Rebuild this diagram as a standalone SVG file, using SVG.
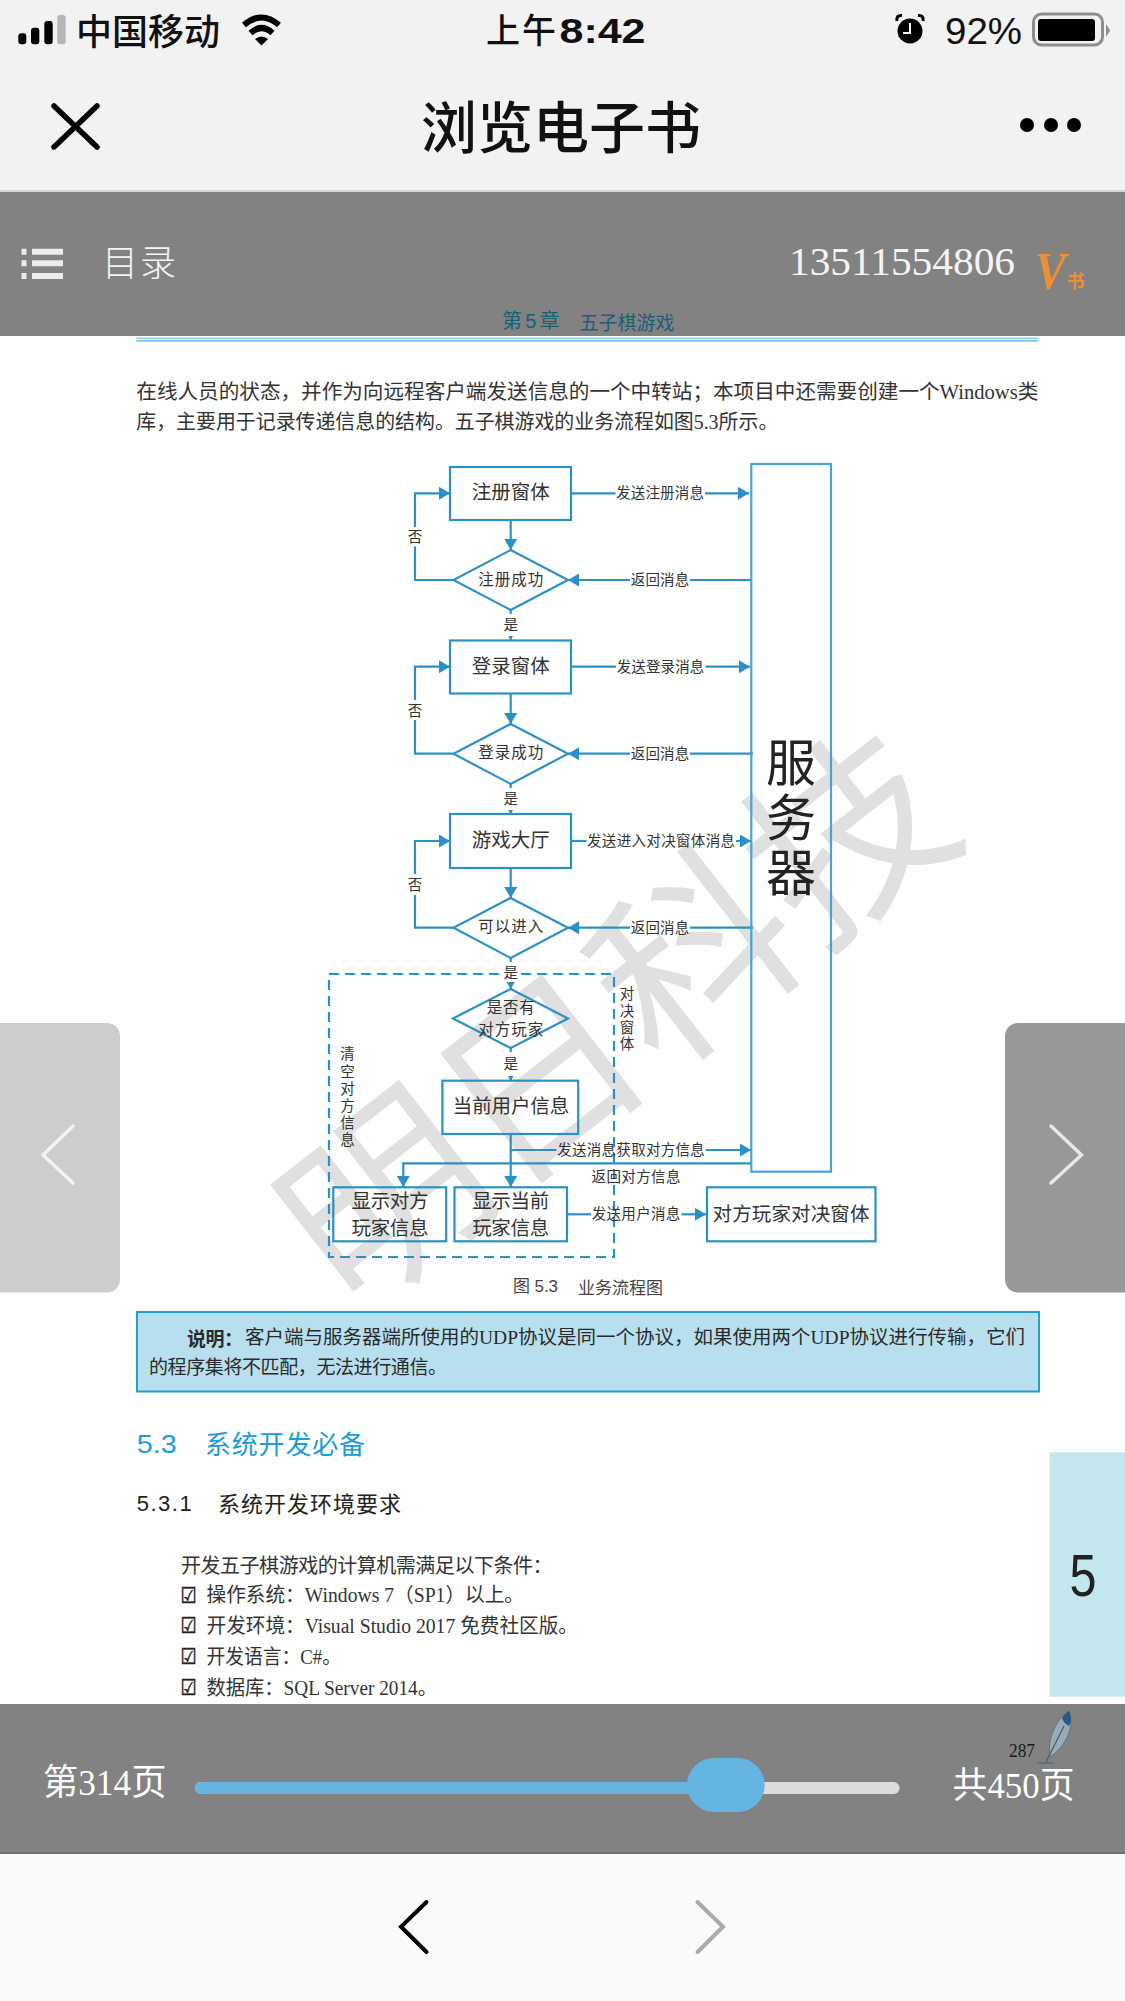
<svg xmlns="http://www.w3.org/2000/svg" width="1125" height="2001" viewBox="0 0 1125 2001">
<style>
text{dominant-baseline:central;font-family:"Noto Sans CJK SC","Noto Sans",sans-serif}
.sf{font-family:"Liberation Serif","Noto Sans CJK SC",serif}
.ss{font-family:"Liberation Sans","Noto Sans CJK SC",sans-serif}
.lb{font-size:14.5px;fill:#333;text-anchor:middle}
.bx{font-size:19.5px;fill:#333;text-anchor:middle}
.dt{font-size:15.5px;fill:#333;text-anchor:middle}
.pg{font-size:20px;fill:#333}
.nt{font-size:19px;fill:#2a2a2a}
.wt{fill:#f4f4f4}
.ck{font-family:"DejaVu Sans",sans-serif;font-size:22px;fill:#222;stroke:#222;stroke-width:.5}
.node{fill:none;stroke:#2b90c6;stroke-width:2.2}
.con{fill:none;stroke:#2b90c6;stroke-width:2.2}
.bgw{fill:#fff;stroke:none}
</style>
<defs>
<marker id="ah" markerUnits="userSpaceOnUse" markerWidth="12" markerHeight="13" refX="11" refY="6.5" orient="auto"><path d="M0,0L11,6.5L0,13Z" fill="#2b90c6"/></marker>
</defs>
<rect width="1125" height="2001" fill="#fff"/>
<g id="watermark"><text x="608" y="1006" transform="rotate(-38 608 1006)" text-anchor="middle" style="font-size:196px;fill:#e0e0e0">明日科技</text></g>

<g id="page-text">
<text class="sf pg" x="136.3" y="391.5" textLength="902" lengthAdjust="spacingAndGlyphs">在线人员的状态，并作为向远程客户端发送信息的一个中转站；本项目中还需要创建一个Windows类</text>
<text class="sf pg" x="136.3" y="421.5" textLength="642" lengthAdjust="spacingAndGlyphs">库，主要用于记录传递信息的结构。五子棋游戏的业务流程如图5.3所示。</text>
</g>

<g id="connectors">
<rect x="329" y="974" width="285" height="283" fill="none" stroke="#2b90c6" stroke-width="2.2" stroke-dasharray="10 6"/>
<path class="con" marker-end="url(#ah)" d="M510.7,520V550"/>
<path class="con" marker-end="url(#ah)" d="M510.7,693.7V724"/>
<path class="con" marker-end="url(#ah)" d="M510.7,868V898"/>
<path class="con" marker-end="url(#ah)" d="M510.7,610V640"/>
<path class="con" marker-end="url(#ah)" d="M510.7,784V814"/>
<path class="con" marker-end="url(#ah)" d="M510.7,958V989"/>
<path class="con" marker-end="url(#ah)" d="M510.7,1048V1080.7"/>
<path class="con" marker-end="url(#ah)" d="M510.7,1134V1187"/>
<path class="con" d="M571,493.3H615.5"/><path class="con" marker-end="url(#ah)" d="M705,493.3H749"/>
<path class="con" d="M571,666.7H616"/><path class="con" marker-end="url(#ah)" d="M705.5,666.7H750"/>
<path class="con" d="M571,841H586.5"/><path class="con" marker-end="url(#ah)" d="M736,841H751"/>
<path class="con" d="M751,580H690"/><path class="con" marker-end="url(#ah)" d="M630,580H568"/>
<path class="con" d="M753,753.7H690"/><path class="con" marker-end="url(#ah)" d="M630,753.7H568"/>
<path class="con" d="M753,927.7H690"/><path class="con" marker-end="url(#ah)" d="M630,927.7H568"/>
<path class="con" d="M453.5,580H415V546.5"/><path class="con" marker-end="url(#ah)" d="M415,527V493.3H450"/>
<path class="con" d="M453.5,753.7H415V720"/><path class="con" marker-end="url(#ah)" d="M415,700V666.7H450"/>
<path class="con" d="M453.5,927.7H415V895"/><path class="con" marker-end="url(#ah)" d="M415,874V841H450"/>
<path class="con" d="M510.7,1150H556.5"/><path class="con" marker-end="url(#ah)" d="M706,1150H751"/>
<path class="con" marker-end="url(#ah)" d="M751,1163.3H403.3V1187"/>
<path class="con" d="M567,1214.3H591"/><path class="con" marker-end="url(#ah)" d="M681.5,1214.3H706"/>
</g>

<g id="connector-labels">
<text class="lb" x="660" y="491.5" textLength="88">发送注册消息</text>
<text class="lb" x="660.5" y="665" textLength="87.5">发送登录消息</text>
<text class="lb" x="661" y="839" textLength="148">发送进入对决窗体消息</text>
<text class="lb" x="660" y="578.5" textLength="58.5">返回消息</text>
<text class="lb" x="660" y="752" textLength="58.5">返回消息</text>
<text class="lb" x="660" y="926" textLength="58.5">返回消息</text>
<text class="lb" x="415" y="535.5">否</text>
<text class="lb" x="415" y="709">否</text>
<text class="lb" x="415" y="883.5">否</text>
<rect class="bgw" x="503" y="614" width="15" height="22"/><text class="lb" x="510.7" y="623.5">是</text>
<rect class="bgw" x="503" y="788" width="15" height="22"/><text class="lb" x="510.7" y="797.5">是</text>
<rect class="bgw" x="503" y="962" width="15" height="20"/><text class="lb" x="510.7" y="971">是</text>
<rect class="bgw" x="503" y="1052" width="15" height="24"/><text class="lb" x="510.7" y="1062.5">是</text>
<text class="lb" x="631" y="1148.5" textLength="147.5">发送消息获取对方信息</text>
<text class="lb" x="636" y="1175.5" textLength="89">返回对方信息</text>
<text class="lb" x="636" y="1212" textLength="88.5">发送用户消息</text>
<text class="lb" x="627" y="1020" style="writing-mode:vertical-rl;text-orientation:upright;letter-spacing:2.2px">对决窗体</text>
<text class="lb" x="347.6" y="1098" style="writing-mode:vertical-rl;text-orientation:upright;letter-spacing:2.6px">清空对方信息</text>
<text class="ss" x="513" y="1286" style="font-size:17px;fill:#444" textLength="45">图 5.3</text>
<text x="578" y="1286" style="font-size:17px;fill:#444" textLength="85">业务流程图</text>
</g>

<g id="server"><rect class="node" x="751.3" y="464" width="79.7" height="707.7" style="stroke:#4aa3d3"/><text x="791" y="819" text-anchor="middle" style="writing-mode:vertical-rl;text-orientation:upright;font-size:50px;letter-spacing:5px;fill:#222">服务器</text></g>
<g id="register-window"><rect class="node" x="450" y="467" width="121" height="53"/><text class="bx" x="510.7" y="490.5" textLength="78">注册窗体</text></g>
<g id="register-ok"><path class="node" d="M510.7,550L568,580L510.7,610L453.500,580Z"/><text class="dt" x="510.7" y="577.5" textLength="65">注册成功</text></g>
<g id="login-window"><rect class="node" x="450" y="640.5" width="121" height="53"/><text class="bx" x="510.7" y="664" textLength="78">登录窗体</text></g>
<g id="login-ok"><path class="node" d="M510.7,724L568,753.7L510.7,784L453.500,753.7Z"/><text class="dt" x="510.7" y="751" textLength="65">登录成功</text></g>
<g id="lobby"><rect class="node" x="450" y="814" width="121" height="54"/><text class="bx" x="510.7" y="838" textLength="78">游戏大厅</text></g>
<g id="can-enter"><path class="node" d="M510.7,898L568,927.7L510.7,958L453.500,927.7Z"/><text class="dt" x="510.7" y="925" textLength="65">可以进入</text></g>
<g id="has-opponent"><path class="node" d="M510.7,989L568,1018.500L510.7,1048L453,1018.500Z"/><text class="dt" x="510.7" y="1006" textLength="48">是否有</text><text class="dt" x="510.7" y="1028" textLength="65">对方玩家</text></g>
<g id="current-user"><rect class="node" x="442.4" y="1080.7" width="135.8" height="53.3"/><text class="bx" x="511" y="1104" textLength="116.5">当前用户信息</text></g>
<g id="show-opponent"><rect class="node" x="333.3" y="1187.3" width="112.9" height="54"/><text class="bx" x="390" y="1199.5" textLength="77">显示对方</text><text class="bx" x="390" y="1226" textLength="77">玩家信息</text></g>
<g id="show-current"><rect class="node" x="454.5" y="1187.3" width="112.5" height="54"/><text class="bx" x="510.7" y="1199.5" textLength="77">显示当前</text><text class="bx" x="510.7" y="1226" textLength="77">玩家信息</text></g>
<g id="opponent-window"><rect class="node" x="707" y="1187.3" width="168.5" height="54"/><text class="bx" x="791" y="1212" textLength="157">对方玩家对决窗体</text></g>

<g id="note"><rect x="137" y="1312" width="902" height="79.5" fill="#b8dfee" stroke="#1ba0d8" stroke-width="2"/>
<text class="nt" x="187" y="1337.5" textLength="56" font-weight="bold">说明：</text>
<text class="sf nt" x="245" y="1337.5" textLength="780" lengthAdjust="spacingAndGlyphs">客户端与服务器端所使用的UDP协议是同一个协议，如果使用两个UDP协议进行传输，它们</text>
<text class="nt" x="149" y="1365.5" textLength="298">的程序集将不匹配，无法进行通信。</text></g>

<g id="section">
<text class="ss" x="136.7" y="1444" style="font-size:26px;fill:#1b9cd6" textLength="40" lengthAdjust="spacingAndGlyphs">5.3</text>
<text x="205" y="1442" style="font-size:26px;fill:#1b9cd6" textLength="160">系统开发必备</text>
<text class="ss" x="136.7" y="1503" style="font-size:22px;fill:#222" textLength="55">5.3.1</text>
<text x="218" y="1502" style="font-size:22px;fill:#222" textLength="183">系统开发环境要求</text>
<text class="pg" x="181" y="1564" textLength="371.5">开发五子棋游戏的计算机需满足以下条件：</text>
<text class="ck" x="180.500" y="1595" textLength="16" lengthAdjust="spacingAndGlyphs">☑</text>
<text class="sf pg" x="206.5" y="1595" textLength="317.5" lengthAdjust="spacingAndGlyphs">操作系统：Windows 7（SP1）以上。</text>
<text class="ck" x="180.500" y="1625.7" textLength="16" lengthAdjust="spacingAndGlyphs">☑</text>
<text class="sf pg" x="206.5" y="1625.7" textLength="371.5" lengthAdjust="spacingAndGlyphs">开发环境：Visual Studio 2017 免费社区版。</text>
<text class="ck" x="180.500" y="1656.7" textLength="16" lengthAdjust="spacingAndGlyphs">☑</text>
<text class="sf pg" x="206.5" y="1656.7" textLength="134.5" lengthAdjust="spacingAndGlyphs">开发语言：C#。</text>
<text class="ck" x="180.500" y="1687.7" textLength="16" lengthAdjust="spacingAndGlyphs">☑</text>
<text class="sf pg" x="206.5" y="1687.7" textLength="230.5" lengthAdjust="spacingAndGlyphs">数据库：SQL Server 2014。</text>
</g>

<g id="chapter-tab"><rect x="1049.5" y="1452.3" width="75.5" height="244.4" fill="#c4e6ef"/><text class="ss" x="1083" y="1575" text-anchor="middle" style="font-size:60px;fill:#222" textLength="27" lengthAdjust="spacingAndGlyphs">5</text></g>

<g id="status-bar">
<rect width="1125" height="191" fill="#f2f2f3"/>
<rect x="18.3" y="33.3" width="8" height="11" rx="3"/><rect x="31" y="27.7" width="8.3" height="16.6" rx="3"/><rect x="44.3" y="21" width="8.4" height="23.3" rx="3"/><rect x="57.3" y="15" width="8.4" height="29.3" rx="3" fill="#b5b5b5"/>
<text x="76" y="28.500" style="font-size:36px;fill:#111;font-weight:500" textLength="144">中国移动</text>
<path d="M244,25Q261.5,10 279,25" fill="none" stroke="#000" stroke-width="6"/><path d="M250.5,33Q261.5,23 272.500,33" fill="none" stroke="#000" stroke-width="6"/><path d="M255,39Q261.500,34 268,39L261.500,45.500Z"/>
<text x="486" y="28.500" style="font-size:34px;fill:#111;font-weight:500" textLength="70">上午</text>
<text class="ss" x="559.5" y="30" style="font-size:35px;font-weight:bold;fill:#111" textLength="86" lengthAdjust="spacingAndGlyphs">8:42</text>
<circle cx="910" cy="31" r="12.5"/><path d="M910,23V33H903" fill="none" stroke="#f2f2f3" stroke-width="2"/><path d="M897,21Q896,15 902,15.500M923,21Q924,15 918,15.500" fill="none" stroke="#000" stroke-width="3"/>
<text class="ss" x="945" y="31" style="font-size:36px;fill:#111" textLength="77" lengthAdjust="spacingAndGlyphs">92%</text>
<rect x="1033.500" y="14" width="69" height="31" rx="8" fill="none" stroke="#8e8e8e" stroke-width="3"/><rect x="1038" y="19" width="57" height="22" rx="3"/><path d="M1106,24Q1110,30 1110,30.500Q1110,31 1106,37Z" fill="#8e8e8e"/>
</g>

<g id="title-bar">
<path d="M54,106L97,147M97,106L54,147" stroke="#000" stroke-width="5.500" stroke-linecap="round" fill="none"/>
<text x="421" y="123.500" style="font-size:56px;font-weight:500;fill:#111" textLength="280">浏览电子书</text>
<circle cx="1027" cy="125" r="7"/><circle cx="1051" cy="125" r="7"/><circle cx="1074" cy="125" r="7"/>
</g>

<g id="top-menu">
<rect y="190" width="1125" height="146" fill="#828282"/><rect y="190" width="1125" height="2" fill="#d6d6d6"/>
<path d="M21.500,251.700H26.500M32,251.700H63M21.500,263.300H26.500M32,263.300H63M21.500,276H26.500M32,276H63" stroke="#ececec" stroke-width="6" fill="none"/>
<text class="wt" x="102" y="260" style="font-size:36px;font-weight:300" textLength="74">目录</text>
<text class="sf wt" x="789" y="261.700" style="font-size:40px" textLength="226" lengthAdjust="spacingAndGlyphs">13511554806</text>
<text class="sf" x="1035" y="271" style="font-size:52px;font-weight:bold;font-style:italic;fill:#ee8f35" textLength="31" lengthAdjust="spacingAndGlyphs">V</text>
<text x="1066.500" y="280" style="font-size:18px;font-weight:bold;fill:#ee8f35">书</text>
<text class="ss" x="502" y="321" style="font-size:20px;fill:#16607a" textLength="57.500">第 5 章</text>
<text x="579.600" y="321" style="font-size:19px;fill:#16607a" textLength="95">五子棋游戏</text>
<rect x="136.300" y="337.500" width="902" height="1.300" fill="#7ccbe8"/><rect x="136.300" y="339.800" width="902" height="2" fill="#7ccbe8"/>
</g>

<g id="prev-panel"><rect x="-12" y="1023" width="132" height="269.500" rx="13" fill="#cdcdcd"/><path d="M73,1126L43,1155L73,1183" fill="none" stroke="#f3f3f3" stroke-width="3.500" stroke-linecap="round"/></g>
<g id="next-panel"><rect x="1005" y="1023" width="132" height="269.500" rx="13" fill="#989897"/><path d="M1051,1126L1081.500,1155L1051,1183" fill="none" stroke="#e8e8e8" stroke-width="3.500" stroke-linecap="round"/></g>

<g id="progress-bar">
<rect y="1704" width="1125" height="148" fill="#828282"/><rect y="1852" width="1125" height="2" fill="#6f6f6f"/>
<text class="sf" x="43" y="1783" style="font-size:36px;fill:#fff" textLength="123.400" lengthAdjust="spacingAndGlyphs">第314页</text>
<rect x="195" y="1782" width="704.600" height="12" rx="6" fill="#dcdcdc"/>
<rect x="195" y="1782" width="500" height="12" rx="6" fill="#64b5e2"/>
<rect x="687" y="1758" width="77.700" height="54" rx="27" fill="#64b5e2"/>
<text class="sf" x="952.600" y="1785.500" style="font-size:36px;fill:#fff" textLength="122" lengthAdjust="spacingAndGlyphs">共450页</text>
<text class="sf" x="1009" y="1750.500" style="font-size:19px;fill:#1a1a1a" textLength="26" lengthAdjust="spacingAndGlyphs">287</text>
<path d="M1069,1711C1075,1727 1066,1746 1050,1757C1047,1740 1055,1720 1069,1711Z" fill="#9aabb8" stroke="#5f7484" stroke-width="1"/>
<path d="M1069,1711C1072,1718 1071,1722 1069,1726C1065,1724 1063,1721 1062,1718C1064,1715 1066,1713 1069,1711Z" fill="#245b82"/>
<path d="M1064,1726L1046,1762M1037,1763H1053" stroke="#4a5c68" stroke-width="1.200" fill="none"/>
</g>

<g id="bottom-nav">
<rect y="1854" width="1125" height="147" fill="#f9fafc"/>
<path d="M426.500,1902L401,1926.700L426.500,1952" fill="none" stroke="#000" stroke-width="4" stroke-linecap="round"/>
<path d="M697.500,1902L723,1926.700L697.500,1952" fill="none" stroke="#aaa" stroke-width="4" stroke-linecap="round"/>
</g>
</svg>
